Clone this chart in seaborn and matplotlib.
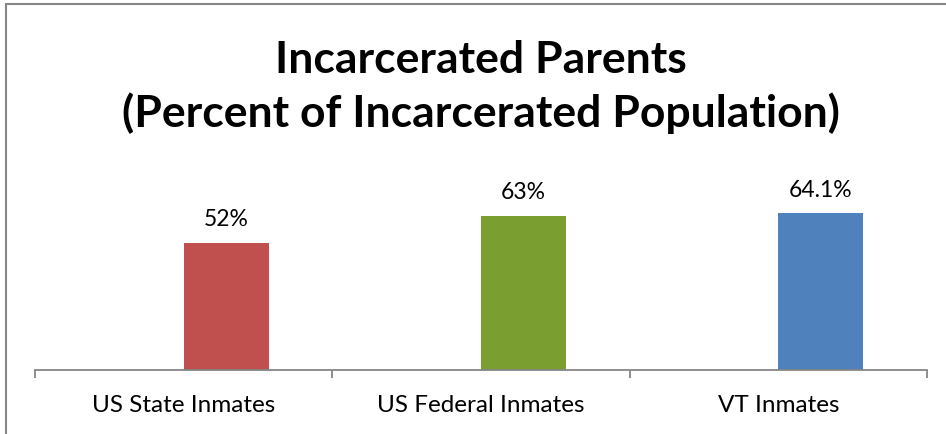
import pandas as pd
import matplotlib.pyplot as plt
import matplotlib.lines as mlines
import seaborn as sns

categories = ["US State Inmates", "US Federal Inmates", "VT Inmates"]
values = [52, 63, 64.1]
value_labels = ["52%", "63%", "64.1%"]
bar_colors = ["#C0504D", "#7A9E2F", "#4F81BD"]

# Excel-style layout: an empty first series pushes the real bars right of the category centre
df = pd.DataFrame({
    "category": categories * 2,
    "series": ["blank"] * len(categories) + ["pct"] * len(categories),
    "value": [0] * len(categories) + values,
})

sns.set_style("white")
plt.rcParams["font.family"] = ["Lato", "DejaVu Sans"]

fig = plt.figure(figsize=(9.46, 4.35), dpi=100)
ax = fig.add_axes([35 / 946, 64 / 435, 892 / 946, 171 / 435])

sns.barplot(data=df, x="category", y="value", hue="series", hue_order=["blank", "pct"],
            order=categories, width=0.572, linewidth=0, legend=False, ax=ax)

pct_bars = [p for p in ax.patches if p.get_height() > 0]
pct_bars.sort(key=lambda p: p.get_x())
for p, c, lab in zip(pct_bars, bar_colors, value_labels):
    p.set_facecolor(c)
    ax.annotate(lab, (p.get_x() + p.get_width() / 2, p.get_height()),
                xytext=(0, 10), textcoords="offset points", ha="center", va="bottom",
                fontsize=16.5, color="#000000")

ax.set_xlim(-0.5, len(categories) - 0.5)
ax.set_ylim(0, 70)
ax.set_xlabel("")
ax.set_ylabel("")
ax.set_yticks([])
sns.despine(ax=ax, left=True)
ax.spines["bottom"].set_color("#868686")
ax.spines["bottom"].set_linewidth(1.3)
ax.set_xticks([i - 0.5 for i in range(len(categories) + 1)], minor=True)
ax.tick_params(axis="x", which="minor", bottom=True, direction="out", length=6, width=1.3, color="#868686")
ax.tick_params(axis="x", which="major", length=0, pad=17, labelsize=17.5, labelcolor="#000000")

fig.text(0.508, 0.80, "Incarcerated Parents\n(Percent of Incarcerated Population)",
         ha="center", va="center", fontsize=32, fontweight="bold", linespacing=1.35,
         color="#000000")

# chart frame (only top and left edges visible in the crop)
fig.add_artist(mlines.Line2D([6 / 946, 1], [1 - 5 / 435, 1 - 5 / 435], color="#868686", lw=1.5))
fig.add_artist(mlines.Line2D([6 / 946, 6 / 946], [0, 1 - 5 / 435], color="#868686", lw=1.5))

fig.savefig("out.png", dpi=100)
